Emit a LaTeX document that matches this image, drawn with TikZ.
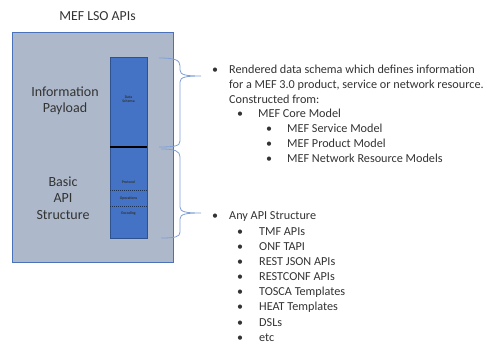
\documentclass[tikz,border=0pt]{standalone}
\usepackage{fontspec}
\setmainfont{Carlito}
\definecolor{outerfill}{HTML}{ADB9CA}
\definecolor{outerline}{HTML}{4A72B8}
\definecolor{colfill}{HTML}{4472C4}
\definecolor{colline}{HTML}{2F528F}
\definecolor{bracecol}{HTML}{7F9FD6}
\definecolor{txt}{HTML}{333333}
\tikzset{
  lbl/.style={text=txt, font=\fontsize{14}{16.5}\selectfont, align=center, inner sep=0pt},
  tiny/.style={text=black!80, font=\bfseries\fontsize{3.8}{4.4}\selectfont, align=center, inner sep=0pt},
  btxt/.style={text=txt, font=\fontsize{12.2}{15}\selectfont, anchor=base west, inner sep=0pt},
  bul/.style={text=txt, font=\fontsize{12}{13}\selectfont, anchor=base, inner sep=0pt},
  brace/.style={draw=bracecol, line width=0.8pt}
}
\begin{document}
\begin{tikzpicture}[x=1pt,y=-1pt]
\useasboundingbox (0,0) rectangle (493,344);
% title
\node[text=txt, font=\fontsize{13.8}{15}\selectfont, inner sep=0pt] (title) at (97.5,16) {MEF LSO APIs};
% outer box
\node[draw=outerline, fill=outerfill, line width=0.8pt, minimum width=161pt, minimum height=230pt, inner sep=0pt] (outer) at (92.5,147) {};
% inner column
\node[draw=colline, fill=colfill, line width=0.6pt, minimum width=37pt, minimum height=181pt, inner sep=0pt] (col) at (128.5,147.5) {};
\coordinate (sepL) at (110,147);
\coordinate (sepR) at (147,147);
\draw[black, line width=1.4pt] (sepL) -- (sepR);
\coordinate (d1L) at (110,190); \coordinate (d1R) at (147,190);
\coordinate (d2L) at (110,206); \coordinate (d2R) at (147,206);
\draw[colline!60!black, line width=0.4pt, dash pattern=on 1pt off 1pt] (d1L) -- (d1R);
\draw[colline!60!black, line width=0.4pt, dash pattern=on 1pt off 1pt] (d2L) -- (d2R);
\node[tiny] (ds) at (128.5,99) {Data\\Schema};
\node[tiny] (proto) at (128.5,182) {Protocol};
\node[tiny] (ops) at (128.5,198) {Operations};
\node[tiny] (enc) at (128.5,213) {Encoding};
% labels
\node[lbl] (info) at (65,101) {Information\\Payload};
\node[lbl] (basic) at (63,198) {Basic\\API\\Structure};
% braces
\coordinate (b1t) at (159,58);
\coordinate (b1p) at (201,76);
\coordinate (b1b) at (159,147);
\draw[brace] (b1t) .. controls (175,58) and (180,60) .. (180,66) -- (180,70)
  .. controls (180,75) and (186,76) .. (b1p)
  .. controls (186,76) and (180,77) .. (180,82) -- (180,141)
  .. controls (180,146) and (175,147) .. (b1b);
\coordinate (b2t) at (161,149);
\coordinate (b2p) at (201,213);
\coordinate (b2b) at (161,238);
\draw[brace] (b2t) .. controls (175,149) and (180,151) .. (180,157) -- (180,207)
  .. controls (180,212) and (186,213) .. (b2p)
  .. controls (186,213) and (180,214) .. (180,219) -- (180,232)
  .. controls (180,237) and (175,238) .. (b2b);
% upper text
\node[bul] (u0b) at (215,74) {•};
\node[btxt] (u0) at (229,74) {Rendered data schema which defines information};
\node[btxt] (u1) at (229,89) {for a MEF 3.0 product, service or network resource.};
\node[btxt] (u2) at (229,103.5) {Constructed from:};
\node[bul] (u3b) at (240,117.5) {•};
\node[btxt] (u3) at (258,117.5) {MEF Core Model};
\node[bul] (u4b) at (269,133) {•};
\node[btxt] (u4) at (287,133) {MEF Service Model};
\node[bul] (u5b) at (269,148) {•};
\node[btxt] (u5) at (287,148) {MEF Product Model};
\node[bul] (u6b) at (269,163) {•};
\node[btxt] (u6) at (287,163) {MEF Network Resource Models};
% lower text
\node[bul] (l0b) at (215,220) {•};
\node[btxt] (l0) at (229,220) {Any API Structure};
\node[bul] (l1b) at (240,236) {•}; \node[btxt] (l1) at (259,236) {TMF APIs};
\node[bul] (l2b) at (240,251) {•}; \node[btxt] (l2) at (259,251) {ONF TAPI};
\node[bul] (l3b) at (240,266) {•}; \node[btxt] (l3) at (259,266) {REST JSON APIs};
\node[bul] (l4b) at (240,281) {•}; \node[btxt] (l4) at (259,281) {RESTCONF APIs};
\node[bul] (l5b) at (240,296) {•}; \node[btxt] (l5) at (259,296) {TOSCA Templates};
\node[bul] (l6b) at (240,311) {•}; \node[btxt] (l6) at (259,311) {HEAT Templates};
\node[bul] (l7b) at (240,326.5) {•}; \node[btxt] (l7) at (259,326.5) {DSLs};
\node[bul] (l8b) at (240,341.5) {•}; \node[btxt] (l8) at (259,341.5) {etc};
\end{tikzpicture}
\end{document}
